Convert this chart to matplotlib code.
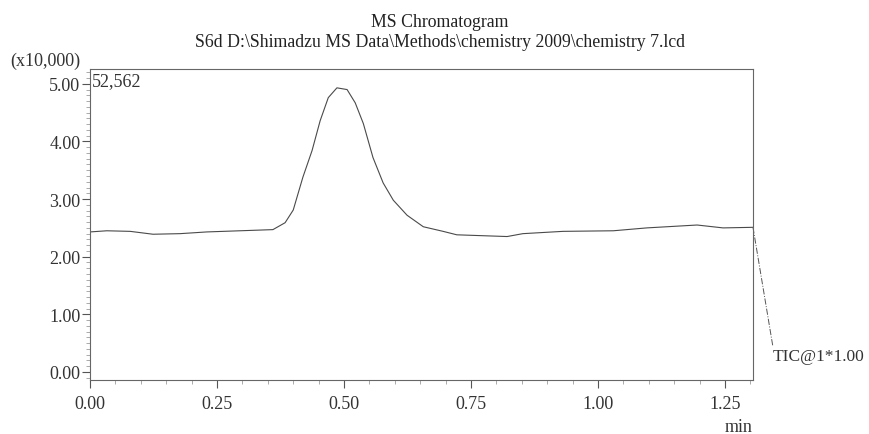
import matplotlib.pyplot as plt
from matplotlib.ticker import MultipleLocator, FormatStrFormatter

plt.rcParams["font.family"] = ["Liberation Serif", "DejaVu Serif"]

tempo = [0.000, 0.033, 0.079, 0.124, 0.177, 0.230, 0.295, 0.360, 0.384, 0.400,
         0.419, 0.437, 0.453, 0.469, 0.486, 0.506, 0.522, 0.538, 0.557, 0.577,
         0.597, 0.624, 0.656, 0.695, 0.722, 0.821, 0.852, 0.931, 1.030, 1.096,
         1.195, 1.246, 1.305]
intensidade = [2.43, 2.45, 2.44, 2.39, 2.40, 2.43, 2.45, 2.47, 2.59, 2.81,
               3.38, 3.84, 4.36, 4.76, 4.93, 4.90, 4.67, 4.31, 3.72, 3.28,
               2.98, 2.72, 2.52, 2.44, 2.38, 2.35, 2.40, 2.44, 2.45, 2.50,
               2.55, 2.50, 2.51]

xticks = [0.00, 0.25, 0.50, 0.75, 1.00, 1.25]
yticks = [0.00, 1.00, 2.00, 3.00, 4.00, 5.00]

# linha de chamada da legenda do traço
chamada_x = [1.305, 1.344]
chamada_y = [2.51, 0.45]

cor = "#555555"
texto = "#333333"

fig = plt.figure(figsize=(8.69, 4.35), dpi=100)
ax = fig.add_axes([0.1036, 0.124, 0.7629, 0.715])

ax.plot(tempo, intensidade, color="#4a4a4a", lw=0.8)
ax.plot(chamada_x, chamada_y, color=cor, lw=0.7, ls="-.", clip_on=False)

ax.set_xlim(0, 1.305)
ax.set_ylim(-0.14, 5.2562)
ax.set_xticks(xticks)
ax.set_yticks(yticks)
ax.xaxis.set_minor_locator(MultipleLocator(0.05))
ax.yaxis.set_minor_locator(MultipleLocator(0.1))
ax.xaxis.set_major_formatter(FormatStrFormatter("%.2f"))
ax.yaxis.set_major_formatter(FormatStrFormatter("%.2f"))

ax.tick_params(which="major", length=6, width=0.8, color=cor,
               labelsize=13, labelcolor=texto)
ax.tick_params(axis="x", which="major", pad=5)
ax.tick_params(axis="y", which="major", pad=1)
ax.tick_params(which="minor", length=3, width=0.5, color="#888888")

for s in ax.spines.values():
    s.set_color("#666666")
    s.set_linewidth(0.8)

ax.text(0.003, 0.99, "52,562", transform=ax.transAxes, ha="left", va="top",
        fontsize=13, color=texto)
fig.text(0.012, 0.860, "(x10,000)", ha="left", va="center",
         fontsize=13, color=texto)
fig.text(0.850, 0.018, "min", ha="center", va="center",
         fontsize=13, color=texto)
fig.text(0.889, 0.179, "TIC@1*1.00", ha="left", va="center",
         fontsize=12.5, color=texto)

fig.text(0.506, 0.949, "MS Chromatogram", ha="center", va="center",
         fontsize=12.8, color="#222222")
fig.text(0.506, 0.903, "S6d D:\\Shimadzu MS Data\\Methods\\chemistry 2009\\chemistry 7.lcd",
         ha="center", va="center", fontsize=12.8, color="#222222")

fig.savefig("out.png", dpi=100)
